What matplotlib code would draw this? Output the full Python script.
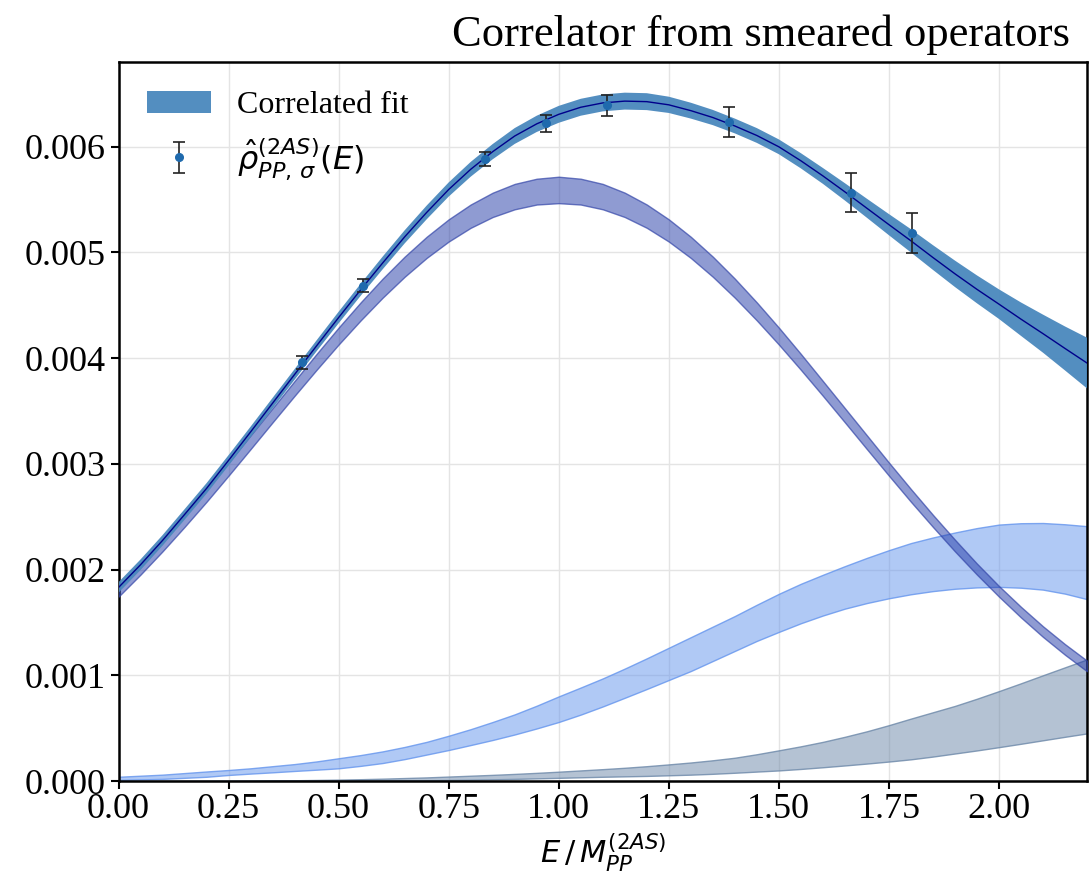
import matplotlib
matplotlib.use("Agg")
import matplotlib.pyplot as plt
from matplotlib.ticker import FormatStrFormatter, MultipleLocator

# ---------------- data ----------------
x_grid = [0.00, 0.05, 0.10, 0.15, 0.20, 0.25, 0.30, 0.35, 0.40, 0.45,
          0.50, 0.55, 0.60, 0.65, 0.70, 0.75, 0.80, 0.85, 0.90, 0.95,
          1.00, 1.05, 1.10, 1.15, 1.20, 1.25, 1.30, 1.35, 1.40, 1.45,
          1.50, 1.55, 1.60, 1.65, 1.70, 1.75, 1.80, 1.85, 1.90, 1.95,
          2.00, 2.05, 2.10, 2.15, 2.20]

# total correlated fit: central value and half width of the band
fit_center = [0.00183, 0.002045, 0.002275, 0.00252, 0.002767, 0.003032,
              0.003301, 0.003573, 0.003845, 0.004116, 0.004383, 0.004645,
              0.004899, 0.005146, 0.005377, 0.005594, 0.005785, 0.005952,
              0.0061, 0.006215, 0.006305, 0.006372, 0.006413, 0.00643,
              0.006425, 0.006395, 0.00634, 0.006275, 0.006195, 0.006105,
              0.005998, 0.005866, 0.005723, 0.005572, 0.005417, 0.005262,
              0.005109, 0.004951, 0.004797, 0.00465, 0.00451, 0.004368,
              0.004231, 0.004091, 0.003953]
fit_halfwidth = [0.00005, 0.00005, 0.00005, 0.00005, 0.00005, 0.00005,
                 0.00005, 0.00005, 0.00005, 0.000052, 0.000055, 0.000057,
                 0.00006, 0.000062, 0.000065, 0.000067, 0.00007, 0.000072,
                 0.000075, 0.000077, 0.00008, 0.00008, 0.00008, 0.00008,
                 0.00008, 0.000077, 0.000075, 0.000072, 0.00007, 0.00007,
                 0.00007, 0.000072, 0.000075, 0.000082, 0.00009, 0.0001,
                 0.00011, 0.000117, 0.000125, 0.000132, 0.00014, 0.000158,
                 0.00018, 0.000208, 0.00024]

# first contribution (peak near E/M = 1): central value and half width
c1_center = [0.001794, 0.002004, 0.002227, 0.00246, 0.002701, 0.00295,
             0.003204, 0.003459, 0.003713, 0.003964, 0.004208, 0.004441,
             0.004661, 0.004864, 0.005047, 0.005207, 0.005342, 0.005449,
             0.005527, 0.005574, 0.00559, 0.005574, 0.005527, 0.005449,
             0.005342, 0.005207, 0.005047, 0.004864, 0.004661, 0.004441,
             0.004208, 0.003964, 0.003713, 0.003459, 0.003204, 0.00295,
             0.002701, 0.00246, 0.002227, 0.002004, 0.001794, 0.001597,
             0.001413, 0.001244, 0.001088]
c1_halfwidth = [0.00005, 0.000052, 0.000055, 0.000057, 0.00006, 0.000062,
                0.000065, 0.000067, 0.00007, 0.000075, 0.00008, 0.000085,
                0.00009, 0.000095, 0.0001, 0.000105, 0.00011, 0.000115,
                0.00012, 0.000122, 0.000125, 0.000122, 0.00012, 0.000115,
                0.00011, 0.000105, 0.0001, 0.000095, 0.00009, 0.000085,
                0.00008, 0.000075, 0.00007, 0.000067, 0.000065, 0.000062,
                0.00006, 0.000057, 0.000055, 0.000052, 0.00005, 0.00005,
                0.00005, 0.00005, 0.00005]

# second contribution (peak near E/M = 2)
c2_hi = [0.00004, 0.00005, 0.00006, 0.000075, 0.00009, 0.000104, 0.00012,
         0.00014, 0.00016, 0.000185, 0.000215, 0.000245, 0.00028, 0.000322,
         0.00037, 0.000428, 0.00049, 0.000558, 0.00063, 0.000712, 0.0008,
         0.000884, 0.00097, 0.001063, 0.00116, 0.00126, 0.00136, 0.00146,
         0.00156, 0.001667, 0.00177, 0.001865, 0.00195, 0.002032, 0.00211,
         0.002183, 0.00225, 0.002303, 0.00235, 0.002392, 0.002425,
         0.002438, 0.00244, 0.002428, 0.00241]
c2_lo = [0.00001, 0.000015, 0.00002, 0.00003, 0.00004, 0.000057, 0.00007,
         0.000082, 0.000095, 0.000107, 0.00012, 0.000143, 0.00017,
         0.000207, 0.00025, 0.000293, 0.00034, 0.000388, 0.00044, 0.000497,
         0.000558, 0.000628, 0.000705, 0.000787, 0.00087, 0.000955,
         0.00104, 0.001135, 0.00123, 0.001325, 0.00141, 0.001492, 0.001565,
         0.00163, 0.001683, 0.001728, 0.001766, 0.001796, 0.001818,
         0.001831, 0.001836, 0.001828, 0.00181, 0.001772, 0.00172]

# third contribution (rising at large E)
c3_hi = [0.0, 0.0, 0.0, 0.0000005, 0.000001, 0.000002, 0.000003, 0.000005,
         0.000007, 0.00001, 0.000013, 0.000017, 0.000022, 0.000028,
         0.000034, 0.000042, 0.00005, 0.000058, 0.000067, 0.000077,
         0.000088, 0.0001, 0.000112, 0.000125, 0.00014, 0.000157, 0.000175,
         0.000196, 0.00022, 0.000253, 0.00029, 0.000328, 0.00037, 0.000418,
         0.00047, 0.000528, 0.00059, 0.00065, 0.00071, 0.000778, 0.00085,
         0.000924, 0.001, 0.001075, 0.00115]
c3_lo = [0.0, 0.0, 0.0, 0.0, 0.0, 0.0, 0.0, 0.0000005, 0.000001, 0.0000015,
         0.000002, 0.000003, 0.000004, 0.0000055, 0.000007, 0.0000095,
         0.000012, 0.000016, 0.00002, 0.000025, 0.00003, 0.000035, 0.00004,
         0.000044, 0.000048, 0.000054, 0.00006, 0.000068, 0.000078,
         0.000089, 0.0001, 0.000114, 0.00013, 0.000147, 0.000165, 0.000184,
         0.000205, 0.000231, 0.00026, 0.000289, 0.00032, 0.000352, 0.000385,
         0.000418, 0.00045]

# smeared spectral density data points
data_x = [0.416, 0.555, 0.832, 0.971, 1.110, 1.387, 1.664, 1.803]
data_y = [0.00396, 0.004685, 0.00588, 0.00622, 0.00639, 0.00623,
          0.005564, 0.005182]
data_err = [0.00006, 0.00006, 0.000066, 0.00008, 0.0001, 0.000144,
            0.000186, 0.00019]

x_ticks = [0.0, 0.25, 0.5, 0.75, 1.0, 1.25, 1.5, 1.75, 2.0]
title_text = "Correlator from smeared operators"
fit_label = "Correlated fit"
data_label = r"$\hat{\rho}^{(2AS)}_{PP,\,\sigma}(E)$"
x_label = r"$E\,/\,M_{PP}^{(2AS)}$"

# ---------------- figure ----------------
plt.rcParams["font.family"] = ["Liberation Serif", "DejaVu Serif"]
plt.rcParams["mathtext.fontset"] = "dejavusans"

W, H = 1091, 880
fig = plt.figure(figsize=(W / 100, H / 100), dpi=100)
ax = fig.add_axes([118.5 / W, 1 - 781 / H, (1087 - 118.5) / W, (781 - 62) / H])

ax.grid(True, color="#e4e4e4", lw=1.0, zorder=0)
ax.set_axisbelow(True)

ax.fill_between(x_grid, c3_lo, c3_hi, facecolor=(0.42, 0.53, 0.66, 0.5),
                edgecolor=(0.42, 0.53, 0.66, 0.8), lw=1.0, zorder=2)
ax.fill_between(x_grid, c2_lo, c2_hi, facecolor=(0.39, 0.58, 0.93, 0.5),
                edgecolor=(0.39, 0.58, 0.93, 0.8), lw=1.0, zorder=2)
c1_lo = [c - h for c, h in zip(c1_center, c1_halfwidth)]
c1_hi = [c + h for c, h in zip(c1_center, c1_halfwidth)]
ax.fill_between(x_grid, c1_lo, c1_hi, facecolor=(0.13, 0.22, 0.65, 0.5),
                edgecolor=(0.20, 0.27, 0.66, 0.7), lw=1.0, zorder=3)

fit_lo = [c - h for c, h in zip(fit_center, fit_halfwidth)]
fit_hi = [c + h for c, h in zip(fit_center, fit_halfwidth)]
band = ax.fill_between(x_grid, fit_lo, fit_hi, facecolor="#4a88bd",
                       edgecolor="none", alpha=0.95, zorder=4,
                       label=fit_label)
ax.plot(x_grid, fit_center, color="#00008b", lw=1.0, zorder=5)

eb = ax.errorbar(data_x, data_y, yerr=data_err, fmt="o", ms=5.5,
                 color="#1f6aad", ecolor="#222222", elinewidth=1.2,
                 capsize=4, capthick=1.2, zorder=6, label=data_label)

ax.set_xlim(0, 2.2)
ax.set_ylim(0, 0.0068)
ax.set_xticks(x_ticks)
ax.yaxis.set_major_locator(MultipleLocator(0.001))
ax.xaxis.set_major_formatter(FormatStrFormatter("%.2f"))
ax.yaxis.set_major_formatter(FormatStrFormatter("%.3f"))
ax.tick_params(direction="out", length=6, width=1.5, labelsize=26,
               pad=3, colors="black")
for s in ax.spines.values():
    s.set_linewidth(1.8)
    s.set_color("black")

ax.set_xlabel(x_label, fontsize=22, labelpad=4)

leg = ax.legend(handles=[band, eb], labels=[fit_label, data_label],
                loc="upper left", frameon=False, fontsize=23,
                handlelength=2.0, handletextpad=0.8, labelspacing=0.5)

fig.text(1070 / W, 1 - 46 / H, title_text, ha="right", va="baseline",
         fontsize=32)

fig.savefig("out.png", dpi=100)
